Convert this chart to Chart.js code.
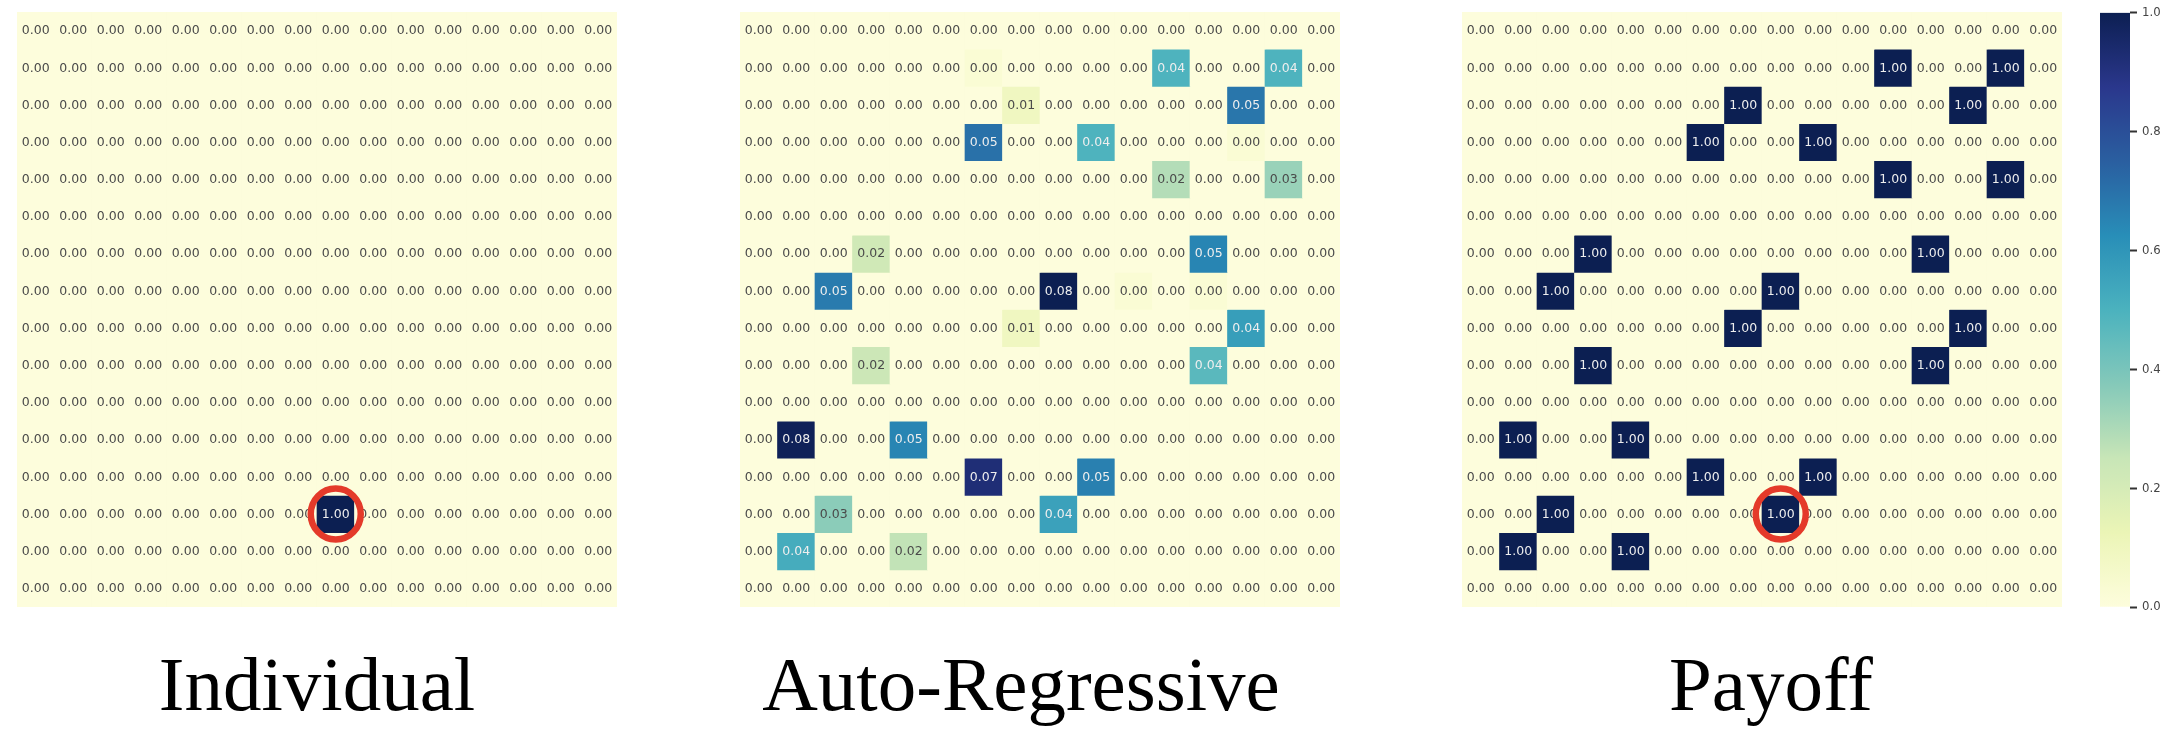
<!DOCTYPE html>
<html>
<head>
<meta charset="utf-8">
<script src="https://cdn.jsdelivr.net/npm/chart.js@4.4.1/dist/chart.umd.min.js"></script>
<style>
  html, body { margin: 0; padding: 0; background: #ffffff; width: 2184px; height: 752px; overflow: hidden; }
  canvas { position: absolute; top: 0; }
  .ttl { position: absolute; top: 646px; width: 700px; height: 80px; line-height: 77px; text-align: center;
         font-family: 'Liberation Serif', 'Times New Roman', serif; font-size: 77px; color: #000; white-space: nowrap; }
</style>
</head>
<body>
<canvas id="c1" width="600" height="752" style="left:17px"></canvas>
<canvas id="c2" width="600" height="752" style="left:740px"></canvas>
<canvas id="c3" width="600" height="752" style="left:1462px"></canvas>
<canvas id="cb" width="84" height="752" style="left:2100px"></canvas>
<div class="ttl" id="t1" style="left:-33px"></div>
<div class="ttl" id="t2" style="left:671px"></div>
<div class="ttl" id="t3" style="left:1421px"></div>
<script>
// ---------------- data ----------------
const columnLabels = ['0','1','2','3','4','5','6','7','8','9','10','11','12','13','14','15'];
const rowLabels    = ['0','1','2','3','4','5','6','7','8','9','10','11','12','13','14','15'];
const panelTitles  = ['Individual', 'Auto-Regressive', 'Payoff'];

const individualValues = [
  [0,0,0,0,0,0,0,0,0,0,0,0,0,0,0,0],
  [0,0,0,0,0,0,0,0,0,0,0,0,0,0,0,0],
  [0,0,0,0,0,0,0,0,0,0,0,0,0,0,0,0],
  [0,0,0,0,0,0,0,0,0,0,0,0,0,0,0,0],
  [0,0,0,0,0,0,0,0,0,0,0,0,0,0,0,0],
  [0,0,0,0,0,0,0,0,0,0,0,0,0,0,0,0],
  [0,0,0,0,0,0,0,0,0,0,0,0,0,0,0,0],
  [0,0,0,0,0,0,0,0,0,0,0,0,0,0,0,0],
  [0,0,0,0,0,0,0,0,0,0,0,0,0,0,0,0],
  [0,0,0,0,0,0,0,0,0,0,0,0,0,0,0,0],
  [0,0,0,0,0,0,0,0,0,0,0,0,0,0,0,0],
  [0,0,0,0,0,0,0,0,0,0,0,0,0,0,0,0],
  [0,0,0,0,0,0,0,0,0,0,0,0,0,0,0,0],
  [0,0,0,0,0,0,0,0,1,0,0,0,0,0,0,0],
  [0,0,0,0,0,0,0,0,0,0,0,0,0,0,0,0],
  [0,0,0,0,0,0,0,0,0,0,0,0,0,0,0,0]
];

const autoRegressiveValues = [
  [0,0,0,0,0,0,0,0,0,0,0,0,0,0,0,0],
  [0,0,0,0,0,0,0.002,0,0,0,0,0.038,0,0,0.038,0],
  [0,0,0,0,0,0,0,0.007,0,0,0,0,0,0.053,0,0],
  [0,0,0,0,0,0,0.054,0,0,0.038,0,0,0,0.002,0,0],
  [0,0,0,0,0,0,0,0,0,0,0,0.022,0,0,0.026,0],
  [0,0,0,0,0,0,0,0,0,0,0,0,0,0,0,0],
  [0,0,0,0.017,0,0,0,0,0,0,0,0,0.050,0,0,0],
  [0,0,0.052,0,0,0,0,0,0.077,0,0.002,0,0.002,0,0,0],
  [0,0,0,0,0,0,0,0.007,0,0,0,0,0,0.044,0,0],
  [0,0,0,0.018,0,0,0,0,0,0,0,0,0.036,0,0,0],
  [0,0,0,0,0,0,0,0,0,0,0,0,0,0,0,0],
  [0,0.076,0,0,0.050,0,0,0,0,0,0,0,0,0,0,0],
  [0,0,0,0,0,0,0.071,0,0,0.051,0,0,0,0,0,0],
  [0,0,0.028,0,0,0,0,0,0.043,0,0,0,0,0,0,0],
  [0,0.040,0,0,0.020,0,0,0,0,0,0,0,0,0,0,0],
  [0,0,0,0,0,0,0,0,0,0,0,0,0,0,0,0]
];

const payoffValues = [
  [0,0,0,0,0,0,0,0,0,0,0,0,0,0,0,0],
  [0,0,0,0,0,0,0,0,0,0,0,1,0,0,1,0],
  [0,0,0,0,0,0,0,1,0,0,0,0,0,1,0,0],
  [0,0,0,0,0,0,1,0,0,1,0,0,0,0,0,0],
  [0,0,0,0,0,0,0,0,0,0,0,1,0,0,1,0],
  [0,0,0,0,0,0,0,0,0,0,0,0,0,0,0,0],
  [0,0,0,1,0,0,0,0,0,0,0,0,1,0,0,0],
  [0,0,1,0,0,0,0,0,1,0,0,0,0,0,0,0],
  [0,0,0,0,0,0,0,1,0,0,0,0,0,1,0,0],
  [0,0,0,1,0,0,0,0,0,0,0,0,1,0,0,0],
  [0,0,0,0,0,0,0,0,0,0,0,0,0,0,0,0],
  [0,1,0,0,1,0,0,0,0,0,0,0,0,0,0,0],
  [0,0,0,0,0,0,1,0,0,1,0,0,0,0,0,0],
  [0,0,1,0,0,0,0,0,1,0,0,0,0,0,0,0],
  [0,1,0,0,1,0,0,0,0,0,0,0,0,0,0,0],
  [0,0,0,0,0,0,0,0,0,0,0,0,0,0,0,0]
];

const individualCircle = [13, 8];   // [row, column]
const payoffCircle     = [13, 8];
const colorbarTicks    = [0.0, 0.2, 0.4, 0.6, 0.8, 1.0];

// ---------------- colormap (YlGnBu, slightly muted as in the reference) ----------------
const YLGNBU = ['#ffffd9','#edf8b1','#c7e9b4','#7fcdbb','#41b6c4','#1d91c0','#225ea8','#253494','#081d58'];
function hexRGB(h) { return [parseInt(h.substr(1,2),16), parseInt(h.substr(3,2),16), parseInt(h.substr(5,2),16)]; }
const STOPS = YLGNBU.map(hexRGB);
function cmapRGB(t) {
  t = Math.max(0, Math.min(1, t));
  const p = t * (STOPS.length - 1);
  const i = Math.min(STOPS.length - 2, Math.floor(p));
  const f = p - i;
  const c = STOPS[i].map((v, k) => v + (STOPS[i + 1][k] - v) * f);
  const g = (c[0] + c[1] + c[2]) / 3;
  const m = 0.12;
  return c.map(v => Math.round(v * (1 - m) + g * m));
}
function rgbStr(c) { return 'rgb(' + c[0] + ',' + c[1] + ',' + c[2] + ')'; }
function luminance(c) {
  const l = c.map(v => { v /= 255; return v <= 0.03928 ? v / 12.92 : Math.pow((v + 0.055) / 1.055, 2.4); });
  return 0.2126 * l[0] + 0.7152 * l[1] + 0.0722 * l[2];
}

// ---------------- plugins ----------------
const cellBackground = {
  id: 'cellBackground',
  beforeDatasetsDraw(chart) {
    const a = chart.chartArea, ctx = chart.ctx;
    ctx.save();
    ctx.fillStyle = rgbStr(cmapRGB(0));
    ctx.fillRect(a.left, a.top, a.right - a.left, a.bottom - a.top);
    ctx.restore();
  }
};

const cellLabels = {
  id: 'cellLabels',
  afterDatasetsDraw(chart) {
    const vals = chart.options.plugins.cellLabels.values;
    const vmax = chart.options.plugins.cellLabels.vmax;
    const ctx = chart.ctx;
    ctx.save();
    ctx.font = '12.5px "DejaVu Sans"';
    ctx.textAlign = 'center';
    ctx.textBaseline = 'middle';
    chart.data.datasets.forEach((ds, r) => {
      const meta = chart.getDatasetMeta(r);
      meta.data.forEach((bar, c) => {
        const v = vals[r][c];
        const col = cmapRGB(v / vmax);
        ctx.fillStyle = luminance(col) > 0.408 ? '#4a4a4a' : '#eeeeee';
        ctx.fillText(v.toFixed(2), bar.x, (bar.y + bar.base) / 2 + 0.5);
      });
    });
    const circ = chart.options.plugins.cellLabels.circle;
    if (circ) {
      const bar = chart.getDatasetMeta(circ[0]).data[circ[1]];
      const cx = bar.x, cy = (bar.y + bar.base) / 2;
      ctx.beginPath();
      ctx.lineWidth = 6.5;
      ctx.strokeStyle = '#e43a2a';
      ctx.ellipse(cx, cy, 25, 25.5, 0, 0, Math.PI * 2);
      ctx.stroke();
    }
    ctx.restore();
  }
};

function makeHeatmap(canvasId, values, circle) {
  const vmax = Math.max(...values.flat());
  const datasets = rowLabels.map((rl, r) => ({
    label: rl,
    data: columnLabels.map(() => 1),
    backgroundColor: (c) => rgbStr(cmapRGB(values[r][c.dataIndex] / vmax)),
    borderWidth: 0,
    barPercentage: 1,
    categoryPercentage: 1
  }));
  return new Chart(document.getElementById(canvasId), {
    type: 'bar',
    data: { labels: columnLabels, datasets },
    options: {
      responsive: false,
      animation: false,
      devicePixelRatio: 1,
      layout: { padding: { top: 12, bottom: 145, left: 0, right: 0 } },
      plugins: {
        legend: { display: false },
        tooltip: { enabled: false },
        title: { display: false },
        cellLabels: { values, vmax, circle }
      },
      scales: {
        x: { type: 'category', stacked: true, display: false },
        y: { type: 'linear', stacked: true, min: 0, max: rowLabels.length, reverse: true, display: false }
      }
    },
    plugins: [cellBackground, cellLabels]
  });
}

makeHeatmap('c1', individualValues, individualCircle);
makeHeatmap('c2', autoRegressiveValues, null);
makeHeatmap('c3', payoffValues, payoffCircle);

document.getElementById('t1').textContent = panelTitles[0];
document.getElementById('t2').textContent = panelTitles[1];
document.getElementById('t3').textContent = panelTitles[2];

// ---------------- colorbar ----------------
new Chart(document.getElementById('cb'), {
  type: 'bar',
  data: {
    labels: ['scale'],
    datasets: [{
      data: [[colorbarTicks[0], colorbarTicks[colorbarTicks.length - 1]]],
      backgroundColor: (c) => {
        const a = c.chart.chartArea;
        if (!a) return null;
        const g = c.chart.ctx.createLinearGradient(0, a.bottom, 0, a.top);
        for (let i = 0; i <= 32; i++) g.addColorStop(i / 32, rgbStr(cmapRGB(i / 32)));
        return g;
      },
      borderWidth: 0,
      barPercentage: 1,
      categoryPercentage: 1
    }]
  },
  options: {
    responsive: false,
    animation: false,
    devicePixelRatio: 1,
    layout: { padding: { top: 12, bottom: 145, left: 0, right: 0 } },
    plugins: { legend: { display: false }, tooltip: { enabled: false } },
    scales: {
      x: { display: false },
      y: {
        position: 'right',
        min: 0, max: 1,
        afterBuildTicks: (s) => { s.ticks = colorbarTicks.map(v => ({ value: v })); },
        afterFit: (s) => { s.width = 54; },
        ticks: {
          callback: (v) => Number(v).toFixed(1),
          font: { family: "'DejaVu Sans Condensed', 'DejaVu Sans'", size: 13 },
          color: '#444',
          padding: 5
        },
        grid: { drawOnChartArea: false, drawTicks: true, tickLength: 7, tickWidth: 2, tickColor: '#333' },
        border: { display: false }
      }
    }
  }
});
</script>
</body>
</html>
